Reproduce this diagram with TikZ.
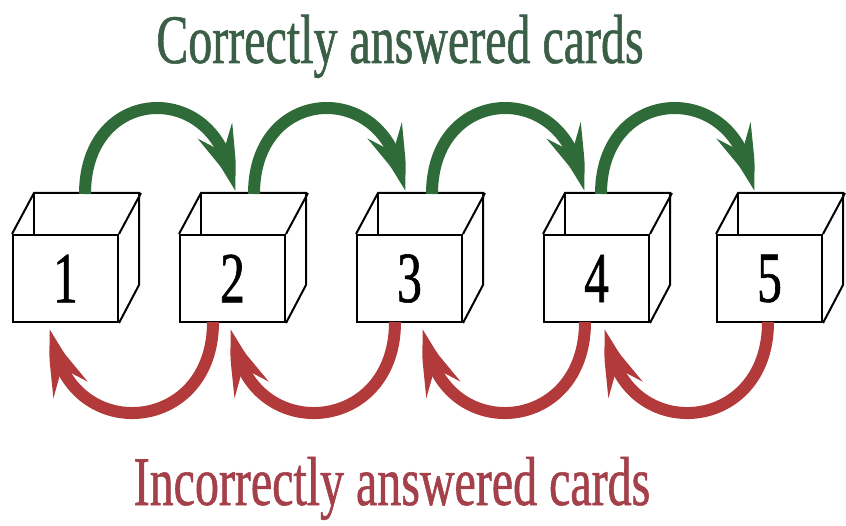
\documentclass[tikz,border=0pt]{standalone}
\usepackage{fontspec}
\setmainfont{Liberation Serif}[FakeStretch=0.69, FakeBold=0.8]
\usetikzlibrary{arrows.meta,bending}

\definecolor{okgreen}{HTML}{2E6B38}
\definecolor{okgreentext}{HTML}{3A5F46}
\definecolor{badred}{HTML}{B23A3A}
\definecolor{badredtext}{HTML}{A3404A}

\begin{document}
\begin{tikzpicture}[
    x=1pt, y=-1pt,
    cardbox/.style={draw, line width=2pt, fill=white, minimum width=105pt, minimum height=87pt, inner sep=0pt, font=\fontsize{72}{72}\selectfont},
    boxedge/.style={line width=2pt},
    promote/.style={okgreen, line width=12pt, -{Stealth[length=72pt, width=36pt, inset=26pt, bend]}},
    demote/.style={badred, line width=12pt, -{Stealth[length=72pt, width=36pt, inset=26pt, bend]}},
    caption/.style={anchor=base, font=\fontsize{69.5}{70}\selectfont}
]
\useasboundingbox (0,0) rectangle (846,526);

% the five boxes
\foreach \i/\x in {1/65.5,2/232.5,3/409.5,4/596.5,5/769.5} {
  \node[cardbox] (b\i) at (\x,278.5) {\i};
  \draw[boxedge] (b\i.north west) -- ++(22,-41) coordinate (back\i) -- ++(105,0) -- ++(0,92) -- (b\i.south east);
  \draw[boxedge] (b\i.north east) -- ++(22,-41);
  \draw[boxedge] (back\i) -- ++(0,41);
}

% where the arrows leave and land
\foreach \i/\a/\b in {1/85/0,2/254/233,3/432/403,4/601/582,5/0/752}
  \coordinate (cfrom\i) at (\a,194) coordinate (cto\i) at (\b,193);
\foreach \i/\a/\b in {1/0/52,2/213/233,3/395/425,4/585/607,5/768/0}
  \coordinate (ifrom\i) at (\a,322) coordinate (ito\i) at (\b,327);

\foreach \i/\j in {1/2,2/3,3/4,4/5} {
  \draw[promote] (cfrom\i) .. controls +(0,-114) and +(-6,-114) .. (cto\j);
  \draw[demote] (ifrom\j) .. controls +(0,118) and +(6,118) .. (ito\i);
}

\node[caption, okgreentext] (correct) at (400,63) {Correctly answered cards};
\node[caption, badredtext] (incorrect) at (392,505) {Incorrectly answered cards};
\end{tikzpicture}
\end{document}
